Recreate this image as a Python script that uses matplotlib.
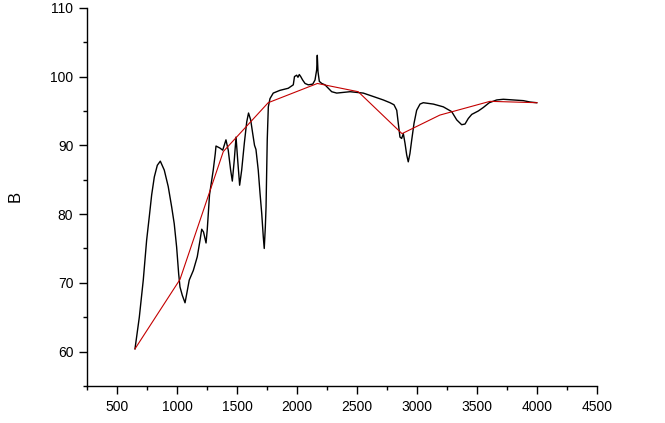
import matplotlib
matplotlib.use("Agg")
import matplotlib.pyplot as plt
import matplotlib.ticker as ticker

plt.rcParams['font.family'] = ['Liberation Sans', 'DejaVu Sans']

# black spectrum
wave = [650, 686, 719, 747, 769, 789, 811, 836, 861, 894, 927, 956, 977, 997,
        1014, 1025, 1044, 1067, 1081, 1102, 1136, 1169, 1192, 1206, 1221, 1242,
        1252, 1261, 1271, 1283, 1302, 1319, 1325, 1358, 1381, 1408, 1427, 1447,
        1461, 1477, 1492, 1506, 1522, 1539, 1561, 1581, 1596, 1614, 1631, 1646,
        1658, 1677, 1692, 1706, 1719, 1727, 1736, 1742, 1747, 1752, 1761, 1775,
        1802, 1858, 1927, 1969, 1979, 1997, 2008, 2019, 2031, 2047, 2067, 2094,
        2131, 2150, 2164, 2169, 2175, 2186, 2206, 2233, 2261, 2289, 2331, 2386,
        2442, 2497, 2552, 2636, 2719, 2775, 2808, 2831, 2844, 2858, 2872, 2886,
        2900, 2914, 2927, 2941, 2956, 2975, 2997, 3025, 3052, 3136, 3219, 3289,
        3331, 3372, 3400, 3427, 3456, 3511, 3552, 3602, 3664, 3719, 3802, 3886,
        3942, 3997]
signal = [60.4, 65.0, 70.4, 76.2, 79.6, 82.8, 85.4, 87.1, 87.7, 86.4, 84.0, 81.0,
          78.6, 75.2, 71.3, 69.4, 68.2, 67.1, 68.4, 70.4, 71.8, 73.8, 76.2, 77.8,
          77.4, 75.8, 77.7, 80.1, 82.8, 84.2, 86.4, 88.8, 89.9, 89.6, 89.3, 90.8,
          89.3, 86.4, 84.8, 87.8, 91.2, 87.8, 84.2, 86.4, 90.3, 93.4, 94.7, 93.7,
          91.7, 90.0, 89.4, 86.4, 83.0, 80.1, 76.7, 75.0, 78.1, 81.0, 85.9, 90.8,
          95.6, 96.8, 97.6, 98.0, 98.3, 98.8, 100.0, 100.2, 99.9, 100.3, 100.0,
          99.5, 99.0, 98.8, 98.9, 99.5, 101.0, 103.1, 100.7, 99.3, 99.0, 98.8,
          98.3, 97.8, 97.6, 97.7, 97.8, 97.7, 97.6, 97.1, 96.6, 96.2, 95.9, 95.1,
          93.2, 91.2, 91.0, 91.7, 90.3, 88.6, 87.6, 88.8, 90.8, 93.2, 95.1, 96.0,
          96.2, 96.0, 95.6, 94.9, 93.7, 93.0, 93.1, 93.9, 94.5, 95.0, 95.5, 96.2,
          96.6, 96.7, 96.6, 96.5, 96.3, 96.2]

# red baseline vertices
base_x = [650, 1025, 1386, 1760, 2170, 2510, 2875, 3190, 3608, 4000]
base_y = [60.4, 70.5, 89.1, 96.2, 99.0, 97.8, 91.7, 94.4, 96.4, 96.2]

fig = plt.figure(figsize=(6.65, 4.23), dpi=100)
ax = fig.add_axes([0.1308, 0.0875, 0.767, 0.894])

ax.plot(wave, signal, color='black', lw=1.0)
ax.plot(base_x, base_y, color='#c40000', lw=0.8)

ax.set_xlim(250, 4500)
ax.set_ylim(55, 110)
ax.xaxis.set_major_locator(ticker.MultipleLocator(500))
ax.xaxis.set_minor_locator(ticker.MultipleLocator(250))
ax.yaxis.set_major_locator(ticker.MultipleLocator(10))
ax.yaxis.set_minor_locator(ticker.MultipleLocator(5))
ax.xaxis.set_major_formatter(ticker.FuncFormatter(lambda v, _: f"{int(v)}" if v >= 500 else ""))
ax.yaxis.set_major_formatter(ticker.FuncFormatter(lambda v, _: f"{int(v)}" if v >= 60 else ""))

for side in ('top', 'right'):
    ax.spines[side].set_visible(False)
for side in ('left', 'bottom'):
    ax.spines[side].set_linewidth(1.0)

ax.tick_params(which='major', direction='out', length=5.8, width=1.0, labelsize=10, pad=4)
ax.tick_params(which='minor', direction='out', length=3.2, width=1.0)
ax.set_ylabel('B', fontsize=12, labelpad=20)

fig.savefig('out.png', dpi=100)
